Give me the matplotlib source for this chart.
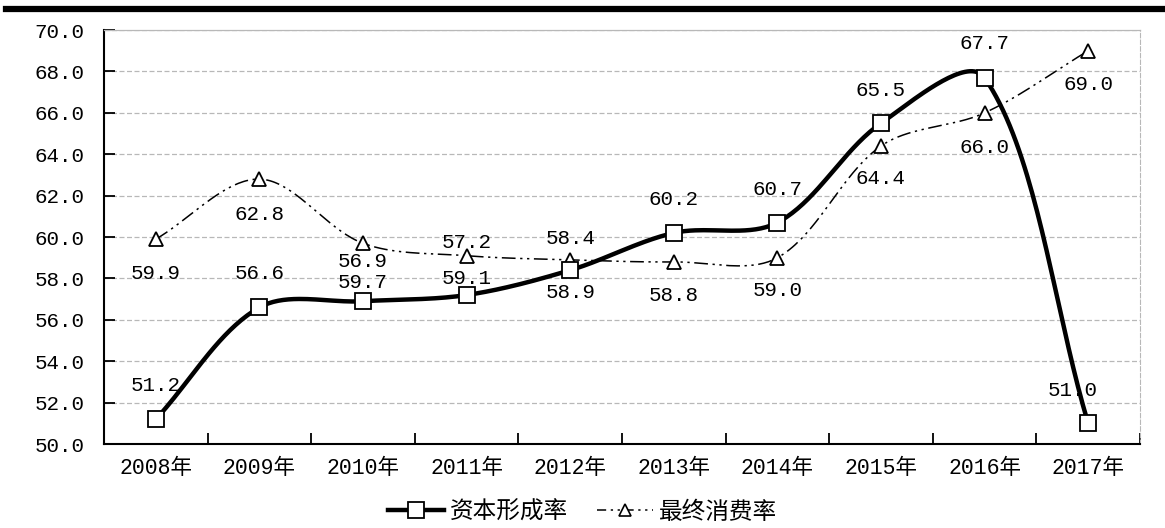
import numpy as np
import matplotlib.pyplot as plt
from matplotlib.lines import Line2D

plt.rcParams['font.family'] = ['Liberation Mono', 'Noto Sans CJK SC', 'DejaVu Sans']

years = ['2008年', '2009年', '2010年', '2011年', '2012年', '2013年', '2014年', '2015年', '2016年', '2017年']
capital = [51.2, 56.6, 56.9, 57.2, 58.4, 60.2, 60.7, 65.5, 67.7, 51.0]
consume = [59.9, 62.8, 59.7, 59.1, 58.9, 58.8, 59.0, 64.4, 66.0, 69.0]
# label text, x index, y position (as they sit in the source picture)
labels = [('51.2', 0, 52.85), ('59.9', 0, 58.25), ('62.8', 1, 61.1), ('56.6', 1, 58.25),
          ('56.9', 2, 58.8), ('59.7', 2, 57.8), ('57.2', 3, 59.75), ('59.1', 3, 58.0),
          ('58.4', 4, 59.95), ('58.9', 4, 57.3), ('60.2', 5, 61.8), ('58.8', 5, 57.2),
          ('60.7', 6, 62.3), ('59.0', 6, 57.4), ('65.5', 7, 67.1), ('64.4', 7, 62.85),
          ('67.7', 8, 69.37), ('66.0', 8, 64.35), ('69.0', 9, 67.35), ('51.0', 8.85, 52.6)]

XS, YS = 103.6, 20.7   # px per category / per unit, used only for the smoothing


def smooth(xs, ys, n=40):
    # bezier smoothing like the spreadsheet "smoothed line" (tangents weighted by segment length)
    P = np.column_stack([np.asarray(xs, float) * XS, np.asarray(ys, float) * YS])
    P = np.vstack([P[0], P, P[-1]])
    t = np.linspace(0, 1, n)[:, None]
    out = []
    for i in range(1, len(P) - 2):
        a, b = P[i], P[i+1]
        d0 = np.hypot(*(a - P[i-1])); d1 = np.hypot(*(b - a)); d2 = np.hypot(*(P[i+2] - b))
        c1 = a + (b - P[i-1]) * d1 / (3 * (d0 + d1)) if d0 + d1 else a
        c2 = b - (P[i+2] - a) * d1 / (3 * (d1 + d2)) if d1 + d2 else b
        out.append((1-t)**3*a + 3*(1-t)**2*t*c1 + 3*(1-t)*t**2*c2 + t**3*b)
    out = np.vstack(out)
    return out[:, 0] / XS, out[:, 1] / YS


fig = plt.figure(figsize=(11.65, 5.28), dpi=100)
ax = fig.add_axes([0.0893, 0.159, 0.8892, 0.784])
x = np.arange(len(years))

ls2 = (0, (9, 3, 1.5, 3, 1.5, 3))
sx, sy = smooth(x, consume)
ax.plot(sx, sy, color='black', lw=1.1, ls=ls2, zorder=3)
ax.plot(x, consume, ls='none', marker='^', ms=10, mfc='white', mec='black', mew=1.3, zorder=4)
sx, sy = smooth(x, capital)
ax.plot(sx, sy, color='black', lw=3.2, zorder=5)
ax.plot(x, capital, ls='none', marker='s', ms=11, mfc='white', mec='black', mew=1.3, zorder=6)

for txt, xi, yi in labels:
    ax.text(xi, yi, txt, ha='center', va='center', fontsize=15, zorder=7)

ax.set_xlim(-0.5, 9.5)
ax.set_ylim(50, 70)
ax.set_yticks(np.arange(50, 70.1, 2))
ax.set_yticklabels(['%.1f' % v for v in np.arange(50, 70.1, 2)], fontsize=15)
ax.set_xticks(x)
ax.set_xticklabels(years, fontsize=15.5)
ax.set_xticks(np.arange(-0.5, 9.6, 1), minor=True)
ax.tick_params(axis='x', which='major', length=0, pad=10)
ax.tick_params(axis='x', which='minor', direction='in', length=8, width=1.3)
ax.tick_params(axis='y', direction='in', length=8, width=1.3, pad=14)
ax.yaxis.grid(True, color='#b8b8b8', ls=(0, (4, 2)), lw=0.9)
ax.set_axisbelow(True)
for s in ['left', 'bottom']:
    ax.spines[s].set_linewidth(1.5)
ax.spines['top'].set_color('#b8b8b8'); ax.spines['top'].set_linewidth(0.9)
ax.spines['right'].set_color('#b8b8b8'); ax.spines['right'].set_linestyle((0, (4, 2)))

# thick rule at the top of the picture
fig.add_artist(Line2D([0.005, 1.0], [0.983, 0.983], color='black', lw=4.5))

h1 = Line2D([], [], color='black', lw=3.2, marker='s', ms=11, mfc='white', mec='black', mew=1.3)
h2 = Line2D([], [], color='black', lw=1.1, ls=(0, (6, 3, 1.5, 3, 1.5, 3)), marker='^', ms=8,
            mfc='white', mec='black', mew=1.2)
fig.legend([h1, h2], ['资本形成率', '最终消费率'], loc='center', bbox_to_anchor=(0.5, 0.03),
           ncol=2, frameon=False, fontsize=17, handlelength=2.4, handletextpad=0.25, columnspacing=1.2)

fig.savefig('out.png', dpi=100)
